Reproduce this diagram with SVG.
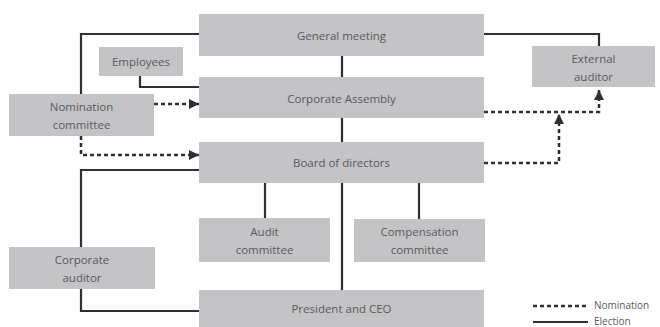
<svg xmlns="http://www.w3.org/2000/svg" width="660" height="327" viewBox="0 0 660 327">
<style>
.box{fill:#c4c3c5}
.t{font-family:"Open Sans","Noto Sans",sans-serif;font-size:11.5px;fill:#5a5a5c;text-anchor:middle;dominant-baseline:central}
.lg{font-family:"Open Sans","Noto Sans",sans-serif;font-size:10px;fill:#5a5a5c;dominant-baseline:central}
.solid{fill:none;stroke:#2e3038;stroke-width:2.2}
.dot{fill:none;stroke:#2e3038;stroke-width:2.5;stroke-dasharray:4 3}
</style>
<defs>
<marker id="ah" viewBox="0 0 10 10" refX="10" refY="5" markerWidth="10" markerHeight="10" markerUnits="userSpaceOnUse" orient="auto">
<path d="M0,0 L10,5 L0,10 Z" fill="#2e3038"/>
</marker>
</defs>
<g id="connectors">
<path class="solid" d="M199,34 H81 V94"/>
<path class="solid" d="M140,76 V87 H199"/>
<path class="solid" d="M342,56 V77"/>
<path class="solid" d="M342,118 V142"/>
<path class="solid" d="M484,34 H599 V46"/>
<path class="solid" d="M199,170 H81 V247"/>
<path class="solid" d="M81,289 V311 H199"/>
<path class="solid" d="M265,183 V218"/>
<path class="solid" d="M419,183 V219"/>
<path class="solid" d="M342,183 V290"/>
<path class="dot" d="M154,104 H199" marker-end="url(#ah)"/>
<path class="dot" d="M81,136 V155 H199" marker-end="url(#ah)"/>
<path class="dot" d="M484,112 H599 V90" marker-end="url(#ah)"/>
<path class="dot" d="M484,163 H559 V114" marker-end="url(#ah)"/>
</g>
<g id="general-meeting"><rect class="box" x="199" y="14" width="285" height="42"/><text class="t" x="341.5" y="35">General meeting</text></g>
<g id="employees"><rect class="box" x="99" y="47" width="84" height="29"/><text class="t" x="141" y="61.5">Employees</text></g>
<g id="corporate-assembly"><rect class="box" x="199" y="77" width="285" height="41"/><text class="t" x="341.5" y="98">Corporate Assembly</text></g>
<g id="nomination-committee"><rect class="box" x="9" y="94" width="145" height="42"/><text class="t" x="81.5" y="106">Nomination</text><text class="t" x="81.5" y="124">committee</text></g>
<g id="external-auditor"><rect class="box" x="532" y="46" width="123" height="41"/><text class="t" x="593.5" y="58">External</text><text class="t" x="593.5" y="76">auditor</text></g>
<g id="board-of-directors"><rect class="box" x="199" y="142" width="285" height="41"/><text class="t" x="341.5" y="162.5">Board of directors</text></g>
<g id="audit-committee"><rect class="box" x="199" y="218" width="131" height="44"/><text class="t" x="264.5" y="231">Audit</text><text class="t" x="264.5" y="249">committee</text></g>
<g id="compensation-committee"><rect class="box" x="354" y="219" width="131" height="43"/><text class="t" x="419.5" y="231">Compensation</text><text class="t" x="419.5" y="249">committee</text></g>
<g id="corporate-auditor"><rect class="box" x="9" y="247" width="146" height="42"/><text class="t" x="82" y="259">Corporate</text><text class="t" x="82" y="277">auditor</text></g>
<g id="president-ceo"><rect class="box" x="199" y="290" width="285" height="37"/><text class="t" x="341.5" y="308.5">President and CEO</text></g>
<g id="legend">
<path class="dot" d="M533,306 H588" stroke-width="2"/>
<path class="solid" d="M533,322 H588"/>
<text class="lg" x="594" y="305">Nomination</text>
<text class="lg" x="594" y="321">Election</text>
</g>
</svg>
